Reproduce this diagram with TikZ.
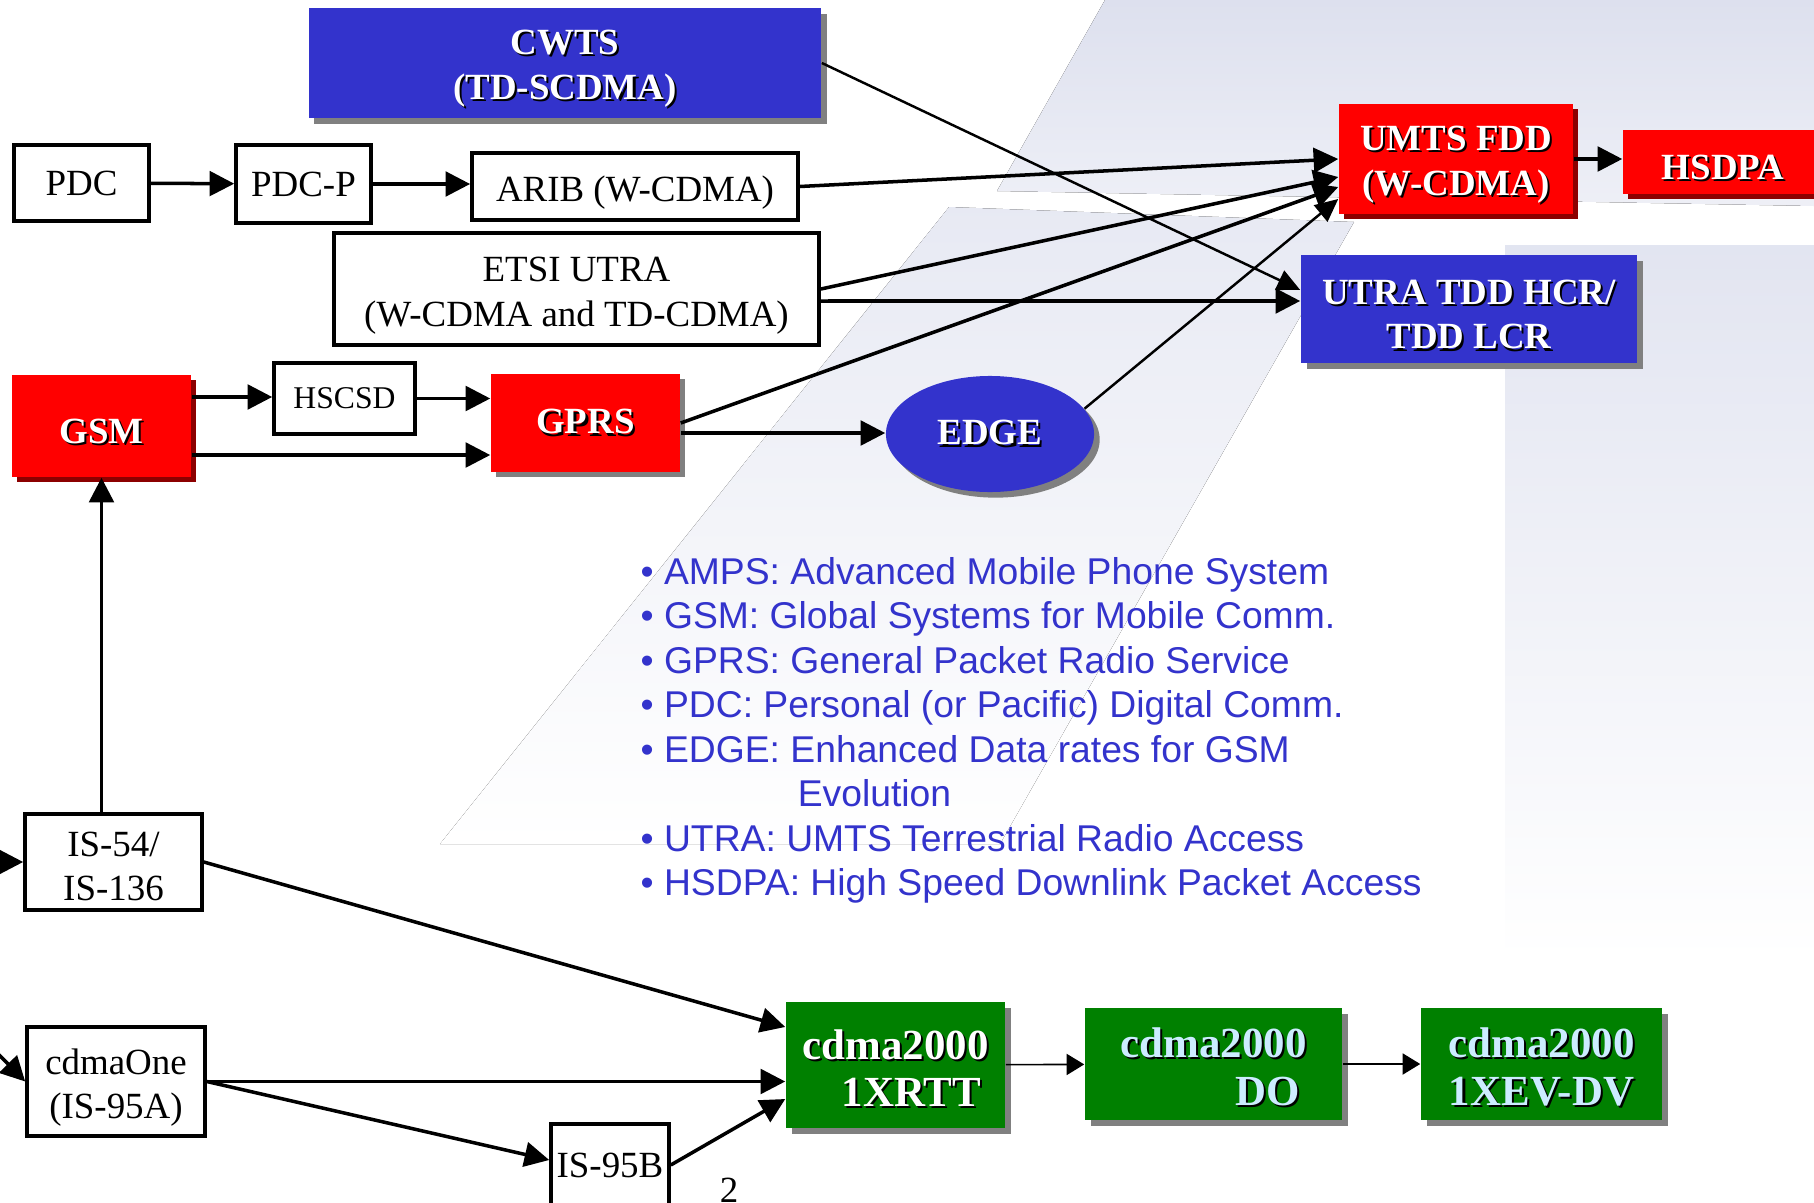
\documentclass[tikz,border=0pt]{standalone}
\usepackage{fontspec}
\setmainfont{Liberation Serif}
\newfontfamily\listfont{Liberation Sans}
\usetikzlibrary{arrows.meta,shadows,shapes.geometric}

\definecolor{boxblue}{RGB}{51,51,204}
\definecolor{boxred}{RGB}{255,0,0}
\definecolor{boxgreen}{RGB}{0,128,0}
\definecolor{paleblue}{RGB}{204,236,255}
\definecolor{bgband}{RGB}{221,224,238}

% white (or coloured) text with a small dark shadow
\newcommand{\shd}[2][white]{\leavevmode\rlap{\kern0.6pt\raisebox{-0.6pt}{\color{black}#2}}{\color{#1}#2}}
% taller first line, pushes two-line labels a little down
\newcommand{\hirule}{\rule{0pt}{10.8pt}}

\tikzset{
  every node/.style={inner sep=0pt, align=center},
  lowtext/.style={execute at begin node={\rule{0pt}{10.5pt}}},
  plainbox/.style={draw, line width=1pt, fill=white, font=\fontsize{10.5}{12.6}\selectfont},
  colbox/.style={fill=#1, font=\fontsize{10.5}{12.6}\selectfont\bfseries},
  redbox/.style={colbox=boxred, drop shadow={shadow xshift=1.4pt, shadow yshift=-1.4pt, fill=red!55!black, opacity=1}},
  bluebox/.style={colbox=boxblue, drop shadow={shadow xshift=1.6pt, shadow yshift=-1.6pt, fill=black!50, opacity=1}},
  greenbox/.style={colbox=boxgreen, font=\fontsize{12.2}{13.6}\selectfont\bfseries,
    drop shadow={shadow xshift=1.8pt, shadow yshift=-1.8pt, fill=black!50, opacity=1}},
  link/.style={line width=1pt, -{Triangle[length=7pt,width=7pt]}},
  thinlink/.style={line width=0.7pt, -{Triangle[length=6.5pt,width=6pt]}},
  hairlink/.style={line width=0.45pt, -{Triangle[length=5pt,width=6pt]}},
  listline/.style={anchor=base west, text=boxblue, font=\listfont\fontsize{10.6}{12.7}\selectfont},
}

\begin{document}
\begin{tikzpicture}[x=0.01cm, y=-0.01cm]
\useasboundingbox (0,0) rectangle (1814,1203);
\clip (0,0) rectangle (1814,1203);

% background bands
\fill[top color=bgband, bottom color=bgband!50] (1105,0) -- (1814,0) -- (1814,206) -- (997,191) -- cycle;
\fill[top color=bgband!70, bottom color=white] (949,207) -- (1354,222) -- (1000,844) -- (440,844) -- cycle;
\fill[top color=bgband!85, bottom color=white] (1505,245) -- (1814,245) -- (1814,960) -- (1505,960) -- cycle;

% boxes
\node[bluebox, minimum width=5.12cm, minimum height=1.10cm] (cwts) at (565,63) {\hirule\shd{CWTS}\\\shd{(TD-SCDMA)}};
\node[plainbox, minimum width=1.35cm, minimum height=0.76cm] (pdc) at (81.5,183) {PDC};
\node[plainbox, minimum width=1.35cm, minimum height=0.78cm] (pdcp) at (303.5,184) {PDC-P};
\node[plainbox, lowtext, minimum width=3.26cm, minimum height=0.67cm] (arib) at (635,186.5) {ARIB (W-CDMA)};
\node[plainbox, minimum width=4.85cm, minimum height=1.12cm] (etsi) at (576.5,289) {\hirule ETSI UTRA\\(W-CDMA and TD-CDMA)};
\node[redbox, lowtext, minimum width=1.79cm, minimum height=1.02cm] (gsm) at (101.5,426) {\shd{GSM}};
\node[plainbox, font=\fontsize{9}{11}\selectfont, minimum width=1.41cm, minimum height=0.71cm] (hscsd) at (344.5,398.5) {HSCSD};
\node[colbox=boxred, drop shadow={shadow xshift=1.4pt, shadow yshift=-1.4pt, fill=black!50, opacity=1},
  minimum width=1.89cm, minimum height=0.98cm] (gprs) at (585.5,423) {\shd{GPRS}};
\node[bluebox, ellipse, minimum width=2.08cm, minimum height=1.16cm] (edge) at (990,434) {\shd{EDGE}};
\node[redbox, minimum width=2.34cm, minimum height=1.10cm] (umts) at (1456,159) {\hirule\shd{UMTS FDD}\\\shd{(W-CDMA)}};
\node[redbox, lowtext, minimum width=2.00cm, minimum height=0.64cm] (hsdpa) at (1723,162) {\shd{HSDPA}};
\node[bluebox, minimum width=3.36cm, minimum height=1.08cm] (utra) at (1469,309) {\hirule\shd{UTRA TDD HCR/}\\\shd{TDD LCR}};
\node[plainbox, minimum width=1.77cm, minimum height=0.96cm] (is54) at (113.5,862) {\rule{0pt}{9.5pt}IS-54/\\IS-136};
\node[plainbox, minimum width=1.78cm, minimum height=1.09cm] (cdmaone) at (116,1081.5) {\hirule cdmaOne\\(IS-95A)};
\node[plainbox, minimum width=1.18cm, minimum height=0.82cm] (is95b) at (610,1165) {IS-95B};
\node[greenbox, minimum width=2.19cm, minimum height=1.26cm] (rtt) at (895.5,1065) {\hirule\shd{cdma2000}\\\hspace*{9pt}\shd{1XRTT}};
\node[greenbox, align=right, minimum width=2.57cm, minimum height=1.12cm] (do) at (1213.5,1064) {\hirule\shd[paleblue]{cdma2000}\\\shd[paleblue]{DO}\hspace*{2pt}};
\node[greenbox, minimum width=2.41cm, minimum height=1.12cm] (evdv) at (1541.5,1064) {\hirule\shd[paleblue]{cdma2000}\\\shd[paleblue]{1XEV-DV}};
\node[font=\fontsize{10.5}{12}\selectfont] (pagenum) at (729,1190) {2};

% loose ends coming in from the left
\coordinate (amps1) at (-40,862);
\coordinate (amps2) at (-40,1015);

% connectors
\draw[link] (pdc) -- (pdcp);
\draw[link] (pdcp.east) -- (pdcp.east -| arib.west);
\draw[link] (arib.east) -- (umts.west);
\draw[link] (etsi.east) -- ([yshift=-0.18cm]umts.west);
\draw[link] ([yshift=-0.12cm]etsi.east) -- ([yshift=0.08cm]utra.west);
\draw[thinlink] (cwts.east) -- ([yshift=0.19cm]utra.west);
\draw[link] (gprs.east) -- ([yshift=-0.28cm]umts.west);
\draw[thinlink] (edge.15) -- ([yshift=-0.40cm]umts.west);
\draw[link] ([yshift=0.29cm]gsm.east) -- ([yshift=0.29cm]gsm.east -| hscsd.west);
\draw[link] (hscsd.east) -- (hscsd.east -| gprs.west);
\draw[link] ([yshift=-0.29cm]gsm.east) -- ([yshift=-0.29cm]gsm.east -| gprs.west);
\draw[link] ([yshift=-0.10cm]gprs.east) -- ([yshift=-0.10cm]gprs.east -| edge.west);
\draw[link] (umts.east) -- (umts.east -| hsdpa.west);
\draw[link] (is54.north -| gsm.south) -- (gsm.south);
\draw[link] (is54.east) -- ([yshift=0.38cm]rtt.west);
\draw[link] (cdmaone.east) -- (cdmaone.east -| rtt.west);
\draw[link] (cdmaone.east) -- ([yshift=0.05cm]is95b.west);
\draw[link] (is95b.east) -- ([yshift=-0.34cm]rtt.west);
\draw[hairlink] (rtt) -- (do);
\draw[hairlink] (do) -- (evdv);
\draw[link] (amps1) -- (is54.west);
\draw[link] (amps2) -- (cdmaone.west);

% glossary
\foreach \entry [count=\k from 0] in {
{• AMPS: Advanced Mobile Phone System},
{• GSM: Global Systems for Mobile Comm.},
{• GPRS: General Packet Radio Service},
{• PDC: Personal (or Pacific) Digital Comm.},
{• EDGE: Enhanced Data rates for GSM},
{\hspace*{1.57cm}Evolution},
{• UTRA: UMTS Terrestrial Radio Access},
{• HSDPA: High Speed Downlink Packet Access}}
  \node[listline] (item\k) at (640,584+44.5*\k) {\entry};
\end{tikzpicture}
\end{document}
